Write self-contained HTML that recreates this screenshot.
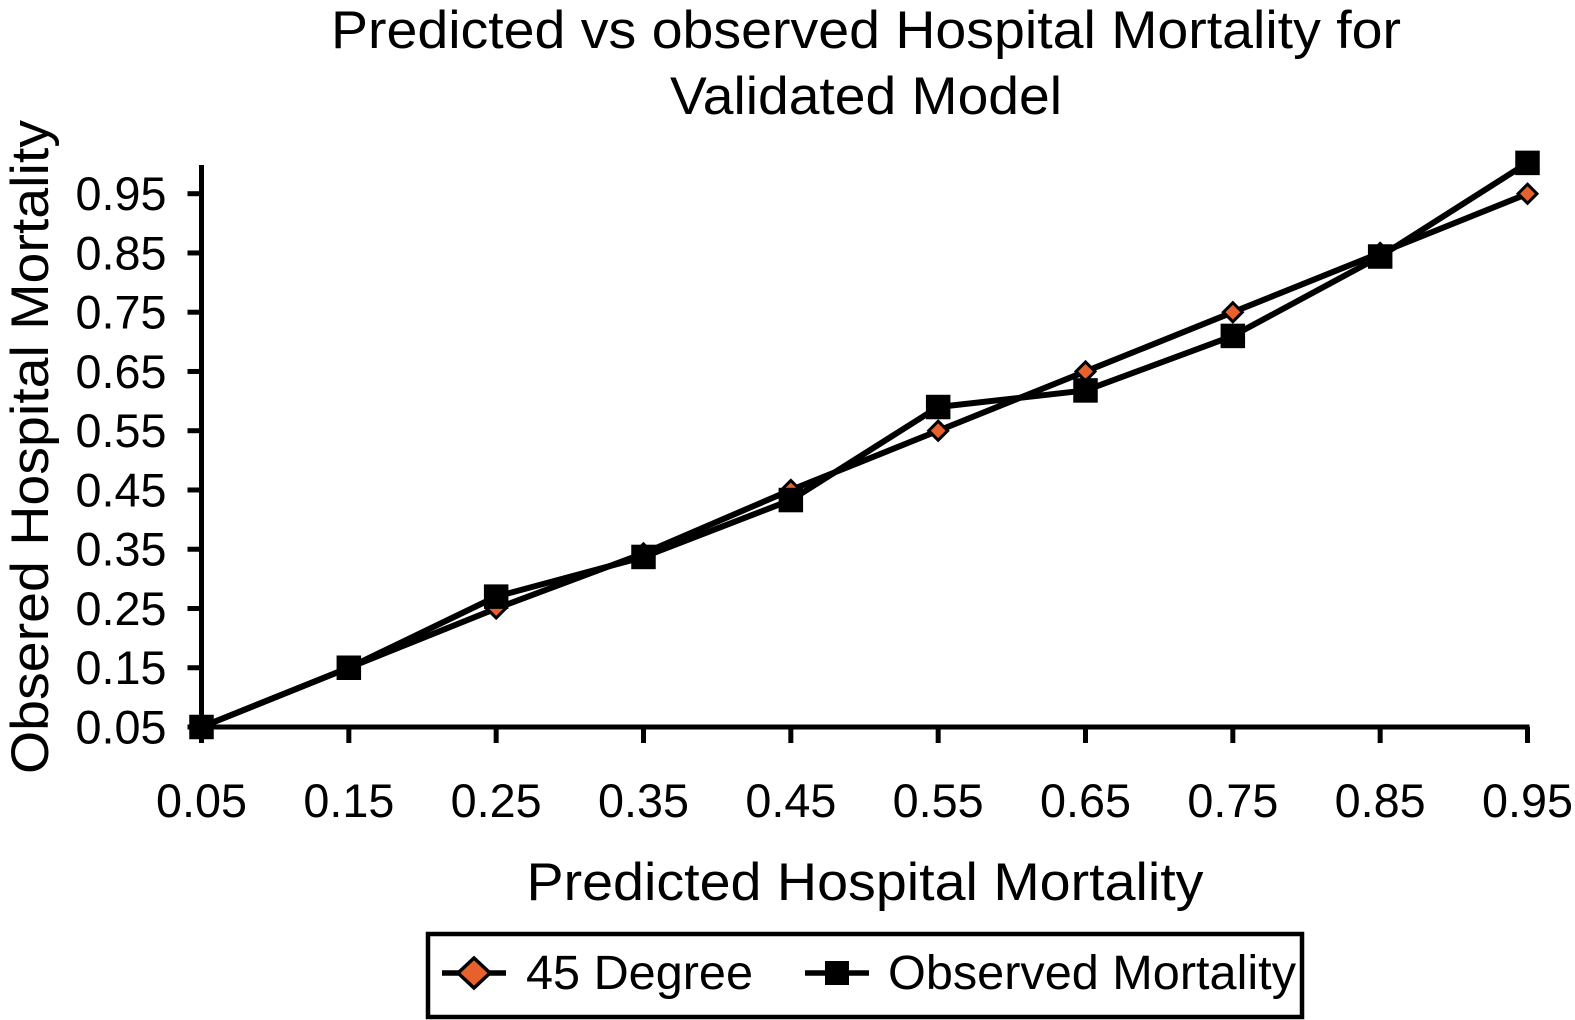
<!DOCTYPE html>
<html lang="en">
<head>
<meta charset="utf-8">
<title>Predicted vs observed Hospital Mortality</title>
<style>
  html, body { margin: 0; padding: 0; background: #fff; }
  svg { display: block; }
  text { font-family: "Liberation Sans", sans-serif; fill: #000; }
</style>
</head>
<body>
<svg id="chart" xmlns="http://www.w3.org/2000/svg" width="1575" height="1020" viewBox="0 0 1575 1020">
  <rect x="0" y="0" width="1575" height="1020" fill="#fff"/>
  <text x="866" y="48" font-size="53" text-anchor="middle" textLength="1070" lengthAdjust="spacingAndGlyphs">Predicted vs observed Hospital Mortality for</text>
  <text x="866" y="114" font-size="53" text-anchor="middle" textLength="392" lengthAdjust="spacingAndGlyphs">Validated Model</text>
  <text transform="translate(48,447) rotate(-90)" font-size="53" text-anchor="middle" textLength="654" lengthAdjust="spacingAndGlyphs">Obsered Hospital Mortality</text>
  <text x="865" y="900" font-size="53" text-anchor="middle" textLength="677" lengthAdjust="spacingAndGlyphs">Predicted Hospital Mortality</text>
  <g id="axes"></g>
  <g id="series"></g>
  <g>
    <rect x="428" y="934" width="874" height="83" fill="#fff" stroke="#000" stroke-width="4.5"/>
    <line x1="442" y1="973" x2="506" y2="973" stroke="#000" stroke-width="5.5"/>
    <polygon points="474,958 490,973 474,988 458,973" fill="#e8602c" stroke="#000" stroke-width="3.5"/>
    <text x="526" y="989" font-size="48" textLength="227" lengthAdjust="spacingAndGlyphs">45 Degree</text>
    <line x1="805" y1="973" x2="869" y2="973" stroke="#000" stroke-width="5.5"/>
    <rect x="825" y="961" width="24" height="24" fill="#000"/>
    <text x="888" y="989" font-size="48" textLength="408" lengthAdjust="spacingAndGlyphs">Observed Mortality</text>
  </g>
</svg>
<script>
const categories = [0.05, 0.15, 0.25, 0.35, 0.45, 0.55, 0.65, 0.75, 0.85, 0.95];
const xTickLabels = ["0.05", "0.15", "0.25", "0.35", "0.45", "0.55", "0.65", "0.75", "0.85", "0.95"];
const yTickValues = [0.05, 0.15, 0.25, 0.35, 0.45, 0.55, 0.65, 0.75, 0.85, 0.95];
const yTickLabels = ["0.05", "0.15", "0.25", "0.35", "0.45", "0.55", "0.65", "0.75", "0.85", "0.95"];
const degree45Values = [0.05, 0.15, 0.25, 0.343, 0.45, 0.55, 0.65, 0.75, 0.85, 0.95];
const observedValues = [0.05, 0.15, 0.27, 0.337, 0.433, 0.59, 0.618, 0.71, 0.844, 1.002];

const SVG_NS = 'http://www.w3.org/2000/svg';
const plotLeft = 201.5, plotRight = 1527.5, plotBottom = 727, y95 = 193.7, axisTop = 165;
function xScale(v) { return plotLeft + (v - 0.05) / 0.9 * (plotRight - plotLeft); }
function yScale(v) { return plotBottom - (v - 0.05) / 0.9 * (plotBottom - y95); }
function make(tag, attrs, parent) {
  const el = document.createElementNS(SVG_NS, tag);
  for (const k in attrs) el.setAttribute(k, attrs[k]);
  parent.appendChild(el);
  return el;
}
const axes = document.getElementById('axes');
const series = document.getElementById('series');

const yAxisLine = make('line', { x1: plotLeft, y1: axisTop, x2: plotLeft, y2: plotBottom + 2, stroke: '#000', 'stroke-width': 5 }, axes);


const xAxisLine = make('line', { x1: plotLeft, y1: plotBottom, x2: plotRight + 2, y2: plotBottom, stroke: '#000', 'stroke-width': 5 }, axes);



categories.forEach(function (c, i) {
  const x = xScale(c);
  const tick = make('line', { x1: x, y1: plotBottom, x2: x, y2: plotBottom + 16, stroke: '#000', 'stroke-width': 5 }, axes);
  
  
  const label = make('text', { x: x, y: 817, 'font-size': 47, 'text-anchor': 'middle', textLength: 91, lengthAdjust: 'spacingAndGlyphs' }, axes);
  
  
  label.textContent = xTickLabels[i];
});
yTickValues.forEach(function (v, i) {
  const y = yScale(v);
  const tick = make('line', { x1: plotLeft - 14, y1: y, x2: plotLeft, y2: y, stroke: '#000', 'stroke-width': 5 }, axes);
  
  
  const label = make('text', { x: 121, y: y + 16.5, 'font-size': 47, 'text-anchor': 'middle', textLength: 91, lengthAdjust: 'spacingAndGlyphs' }, axes);
  
  
  label.textContent = yTickLabels[i];
});

function polyPoints(values) {
  return values.map(function (v, i) { return xScale(categories[i]) + ',' + yScale(v); }).join(' ');
}
const line45 = make('polyline', { points: polyPoints(degree45Values), fill: 'none', stroke: '#000', 'stroke-width': 6, 'stroke-linejoin': 'round' }, series);


degree45Values.forEach(function (v, i) {
  const x = xScale(categories[i]), y = yScale(v), r = 9.5;
  const pts = [[x, y - r], [x + r, y], [x, y + r], [x - r, y]].map(function (p) { return p.join(','); }).join(' ');
  const d = make('polygon', { points: pts, fill: '#e8602c', stroke: '#000', 'stroke-width': 3 }, series);
  
  
});
const lineObs = make('polyline', { points: polyPoints(observedValues), fill: 'none', stroke: '#000', 'stroke-width': 6, 'stroke-linejoin': 'round' }, series);


observedValues.forEach(function (v, i) {
  const x = xScale(categories[i]), y = yScale(v), s = 24.5;
  const m = make('rect', { x: x - s / 2, y: y - s / 2, width: s, height: s, fill: '#000' }, series);
  
  
});
</script>
</body>
</html>
